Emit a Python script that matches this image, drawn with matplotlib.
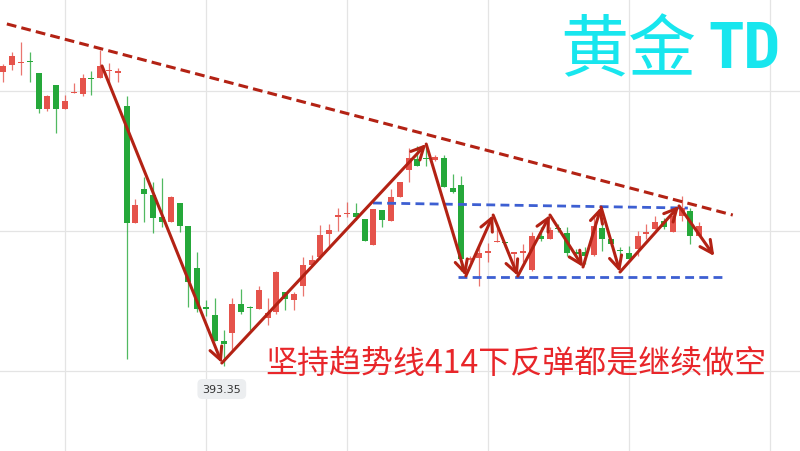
import matplotlib
matplotlib.use("Agg")
import matplotlib.pyplot as plt
from matplotlib import font_manager

# ---------------- data (prices) ----------------
opens = [414.36, 414.86, 415.00, 415.11, 414.29, 411.71, 413.43, 411.71, 412.86, 412.79,
         413.93, 413.93, 414.43, 414.32, 411.93, 403.57, 406.00, 405.57, 404.00, 403.64,
         405.00, 403.36, 400.36, 397.54, 397.00, 395.14, 395.71, 397.79, 397.57, 397.43,
         396.79, 397.21, 398.64, 398.07, 399.07, 400.57, 401.14, 402.79, 404.00, 404.18,
         404.29, 403.86, 402.00, 404.50, 403.71, 405.43, 407.36, 408.14, 408.18, 408.07,
         408.21, 406.07, 406.29, 400.96, 401.07, 401.46, 402.18, 402.21, 401.39, 401.46,
         400.21, 402.64, 402.43, 403.18, 402.86, 401.46, 401.50, 401.29, 403.21, 402.43,
         401.61, 401.43, 401.71, 402.82, 403.14, 403.71, 402.93, 404.07, 404.43, 402.64]
highs = [414.93, 415.79, 416.50, 415.79, 414.29, 412.71, 413.43, 412.71, 413.57, 414.21,
         414.43, 415.93, 415.00, 414.64, 412.64, 405.29, 406.86, 406.50, 406.79, 405.50,
         405.00, 403.36, 401.50, 398.07, 398.21, 395.93, 398.21, 398.86, 397.64, 399.07,
         398.21, 400.14, 398.64, 398.64, 401.14, 401.29, 403.43, 403.50, 404.64, 405.07,
         405.00, 403.86, 404.57, 404.50, 406.00, 406.50, 408.93, 409.07, 409.07, 408.43,
         408.43, 407.07, 406.93, 401.21, 402.00, 402.14, 403.43, 402.21, 401.50, 402.07,
         402.93, 403.29, 403.29, 403.50, 403.29, 401.71, 401.86, 404.14, 403.71, 402.43,
         401.86, 401.93, 403.00, 403.50, 404.07, 403.93, 404.57, 405.50, 404.64, 403.64]
lows = [413.64, 414.50, 414.14, 413.64, 411.43, 411.57, 410.00, 411.71, 412.86, 412.64,
        412.71, 413.93, 413.57, 413.64, 393.86, 403.57, 403.64, 402.86, 403.29, 403.64,
        402.93, 397.57, 397.21, 396.93, 395.14, 393.35, 394.43, 397.07, 395.93, 397.43,
        396.29, 397.07, 397.36, 397.36, 398.36, 400.57, 401.00, 401.71, 403.00, 404.00,
        403.79, 402.29, 402.00, 403.29, 403.71, 405.43, 406.50, 407.64, 407.64, 408.00,
        406.14, 405.71, 400.14, 400.79, 399.07, 400.79, 402.18, 401.86, 400.14, 400.79,
        400.14, 402.29, 402.43, 402.93, 401.21, 401.21, 400.64, 401.21, 401.57, 401.93,
        401.21, 400.86, 401.21, 402.43, 403.14, 403.14, 402.93, 403.71, 402.07, 402.64]
closes = [414.79, 415.50, 415.07, 415.04, 411.71, 412.64, 411.71, 412.29, 412.93, 413.93,
          413.86, 414.79, 414.50, 414.39, 403.57, 404.86, 405.64, 403.93, 403.64, 405.43,
          403.36, 399.36, 397.43, 397.46, 395.14, 394.93, 397.79, 397.21, 397.50, 398.79,
          397.14, 400.07, 398.14, 398.50, 400.57, 400.93, 402.71, 403.07, 404.14, 404.25,
          404.00, 402.29, 404.57, 403.79, 405.43, 406.50, 408.21, 407.64, 408.11, 408.29,
          406.14, 405.79, 401.00, 401.04, 401.43, 401.54, 402.25, 402.14, 401.46, 401.54,
          402.64, 402.43, 403.07, 403.11, 401.43, 401.39, 401.21, 403.36, 402.43, 402.07,
          401.54, 401.00, 402.64, 402.89, 403.64, 403.29, 404.07, 404.64, 402.64, 403.36]

# annotation lines (candle index, price)
trend_x = [0.4, 82.8]
trend_y = [417.79, 404.14]
zig_x = [11.2, 24.8, 48.0, 52.5, 55.6, 58.4, 62.05, 65.8, 67.85, 70.0, 76.7, 80.7]
zig_y = [414.79, 393.57, 409.21, 399.79, 404.14, 399.79, 404.14, 400.43, 404.71, 400.07, 404.79, 401.21]
upper_x = [41.96, 77.7]
upper_y = [405.0, 404.64]
lower_x = [51.6, 81.9]
lower_y = [399.71, 399.71]
low_value = 393.35
low_index = 25

grid_x = [7, 23, 39, 55, 71, 87]
grid_y = [393, 403, 413]

title_cn = "黄金"
title_en = "TD"
note_text = "坚持趋势线414下反弹都是继续做空"

# ---------------- figure ----------------
fig = plt.figure(figsize=(8, 4.52), dpi=100)
ax = fig.add_axes([0, 0, 1, 1])
ax.set_xlim(-0.378, 90.43)
ax.set_ylim(387.286, 419.571)
for s in ax.spines.values():
    s.set_visible(False)
ax.set_xticks(grid_x)
ax.set_yticks(grid_y)
ax.tick_params(length=0, labelbottom=False, labelleft=False)
ax.grid(True, color="#e4e4e4", lw=0.9)
ax.set_axisbelow(True)

red_c = "#e5534b"
green_c = "#25a83a"
xs = list(range(len(opens)))
for i in xs:
    o, h, l, c = opens[i], highs[i], lows[i], closes[i]
    col = red_c if c >= o else green_c
    ax.vlines(i, l, h, color=col, lw=0.9, alpha=0.8, zorder=2)
    bottom = min(o, c)
    height = max(abs(c - o), 0.08)
    ax.bar(i, height, bottom=bottom, width=0.68, color=col, zorder=3, linewidth=0)

line_red = "#b32214"
ax.plot(trend_x, trend_y, color=line_red, lw=2.2, dashes=(3.2, 1.7), zorder=4)
blue_c = "#3d5fd2"
ax.plot(upper_x, upper_y, color=blue_c, lw=2.0, dashes=(3.2, 1.9), zorder=4)
ax.plot(lower_x, lower_y, color=blue_c, lw=2.0, dashes=(3.2, 1.9), zorder=4)

for k in range(len(zig_x) - 1):
    ax.annotate("", xy=(zig_x[k + 1], zig_y[k + 1]), xytext=(zig_x[k], zig_y[k]),
                arrowprops=dict(arrowstyle="->,head_length=0.9,head_width=0.45",
                                color=line_red, lw=2.2, shrinkA=0, shrinkB=0,
                                mutation_scale=10),
                zorder=5)

# low label
ax.annotate(f"{low_value:.2f}", xy=(low_index - 0.2, low_value), xytext=(0, -16.5),
            textcoords="offset points", ha="center", va="center", fontsize=8,
            color="#333333", family="DejaVu Sans",
            bbox=dict(boxstyle="round,pad=0.45", fc="#eceef0", ec="none"))

names = {f.name for f in font_manager.fontManager.ttflist}
if "Roboto Condensed" in names:
    td_font, td_size = "Roboto Condensed", 47
elif "Roboto" in names:
    td_font, td_size = "Roboto", 42
else:
    td_font, td_size = "DejaVu Sans", 38
cjk = ["Noto Sans CJK SC", "DejaVu Sans"]

fig.text(560 / 800, 1 - 52 / 452, title_cn, family=cjk, fontsize=49, color="#18e6ee",
         ha="left", va="center")
fig.text(781 / 800, 1 - 50 / 452, title_en, family=td_font, fontsize=td_size, weight="bold",
         color="#18e6ee", ha="right", va="center")
fig.text(265 / 800, 1 - 364 / 452, note_text, family=cjk, fontsize=23, color="#e8262a",
         ha="left", va="center")

fig.savefig("out.png", dpi=100)
